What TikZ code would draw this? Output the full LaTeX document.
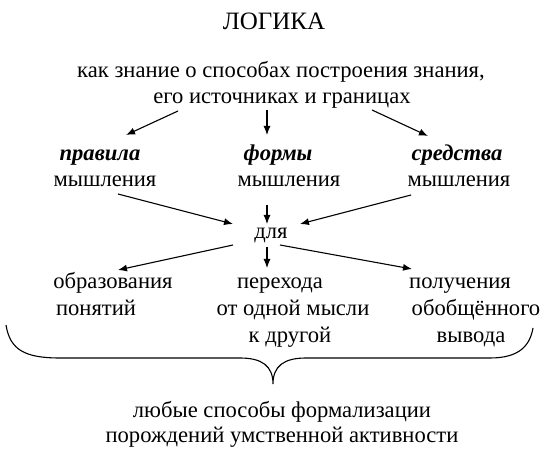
\documentclass[tikz,border=0pt]{standalone}
\usepackage{fontspec}
\setmainfont{Liberation Serif}
\usetikzlibrary{arrows.meta}
\begin{document}
\begin{tikzpicture}[x=1pt,y=-1pt,
  txt/.style={inner sep=0pt,text height=15.8pt,text depth=5.6pt,font=\fontsize{22.6}{25}\selectfont},
  bi/.style={txt,font=\fontsize{22.6}{25}\selectfont\bfseries\itshape},
  arr/.style={line width=1.1pt,-{Latex[length=9pt,width=7pt]}},
  brace/.style={line width=1.1pt}]
\useasboundingbox (0,0) rectangle (550,454);
\node[inner sep=0pt,font=\fontsize{25}{28}\selectfont] (title) at (274,21) {ЛОГИКА};
\node[txt] (s1) at (281,72) {как знание о способах построения знания,};
\node[txt] (s2) at (282,98) {его источниках и границах};
\node[bi] (p1) at (100,155) {правила};
\node[txt] (p2) at (105,181) {мышления};
\node[bi] (f1) at (278,155) {формы};
\node[txt] (f2) at (289,181) {мышления};
\node[bi] (c1) at (457,155) {средства};
\node[txt] (c2) at (459,181) {мышления};
\node[txt] (dl) at (271,233) {для};
\node[txt] (o1) at (113,283) {образования};
\node[txt] (o2) at (96,310) {понятий};
\node[txt] (h1) at (280,283) {перехода};
\node[txt] (h2) at (293,310) {от одной мысли};
\node[txt] (h3) at (290,337) {к другой};
\node[txt] (g1) at (460,283) {получения};
\node[txt] (g2) at (476,310) {обобщённого};
\node[txt] (g3) at (471,337) {вывода};
\node[txt] (l1) at (282,412) {любые способы формализации};
\node[txt] (l2) at (282,437) {порождений умственной активности};
\coordinate (tip) at (273,384);
% top arrows
\draw[arr] ([shift={(-104,13)}]s2.center) -- ([shift={(26,-20)}]p1.center);
\draw[arr] ([shift={(-15,12)}]s2.center) -- ([shift={(-11,-20)}]f1.center);
\draw[arr] ([shift={(90,12)}]s2.center) -- ([shift={(-29,-19)}]c1.center);
% to для
\draw[arr] ([shift={(13,13)}]p2.center) -- ([shift={(-38,-9)}]dl.center);
\draw[arr] ([shift={(-22,24)}]f2.center) -- ([shift={(-4,-9)}]dl.center);
\draw[arr] ([shift={(-48,14)}]c2.center) -- ([shift={(29,-9)}]dl.center);
% from для
\draw[arr] ([shift={(-38,12)}]dl.center) -- ([shift={(5,-13)}]o1.center);
\draw[arr] ([shift={(-4,14)}]dl.center) -- ([shift={(-13,-15)}]h1.center);
\draw[arr] ([shift={(9,12)}]dl.center) -- ([shift={(-48,-14)}]g1.center);
% brace
\draw[brace] (6,325) .. controls (10,350) and (25,358) .. (60,358) -- (240,358)
  .. controls (262,358) and (273,366) .. (tip)
  .. controls (273,366) and (284,358) .. (306,358) -- (490,358)
  .. controls (520,358) and (530,345) .. (533,328);
\end{tikzpicture}
\end{document}
